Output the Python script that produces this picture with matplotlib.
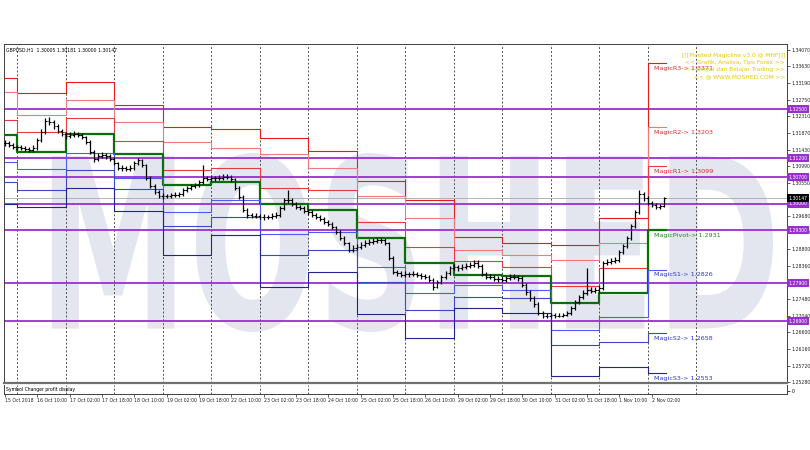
import matplotlib
matplotlib.use('Agg')
import matplotlib.pyplot as plt
from matplotlib.textpath import TextPath
from matplotlib.font_manager import FontProperties
from matplotlib.patches import PathPatch
from matplotlib.path import Path
import matplotlib.transforms as mtransforms
import numpy as np

# ---------------- data ----------------
symbol_text = "GBPUSD,H1  1.30005 1.30181 1.30000 1.30147"
indicator_text = ["[[[Pivoted Magicline v3.0 @ MHF]]]",
                  "<< Grafik, Analisa, Tips Forex >>",
                  "<< Sinyal dan Belajar Trading >>",
                  "<< @ WWW.MOSHED.COM >>"]

# 2-hour bars (bar k is at H1 index 2k); open = previous close
closes = [1.3160, 1.3155, 1.3150, 1.3150, 1.3147, 1.3144, 1.3142, 1.3147, 1.3168, 1.3189,
          1.3218, 1.3216, 1.3205, 1.3192, 1.3184, 1.3179, 1.3181, 1.3184, 1.3181, 1.3176,
          1.3163, 1.3137, 1.3118, 1.3126, 1.3129, 1.3126, 1.3118, 1.3107, 1.3094, 1.3094,
          1.3092, 1.3094, 1.3107, 1.3115, 1.3102, 1.3068, 1.3047, 1.3031, 1.3020, 1.3020,
          1.3020, 1.3023, 1.3023, 1.3026, 1.3036, 1.3041, 1.3047, 1.3049, 1.3057, 1.3068,
          1.3065, 1.3068, 1.3068, 1.3068, 1.3071, 1.3071, 1.3065, 1.3041, 1.3018, 1.2983,
          1.2970, 1.2968, 1.2968, 1.2965, 1.2965, 1.2965, 1.2968, 1.2970, 1.2989, 1.3010,
          1.3010, 1.2999, 1.2991, 1.2989, 1.2981, 1.2978, 1.2970, 1.2965, 1.2960, 1.2952,
          1.2946, 1.2938, 1.2925, 1.2909, 1.2896, 1.2878, 1.2883, 1.2886, 1.2891, 1.2896,
          1.2899, 1.2902, 1.2904, 1.2904, 1.2896, 1.2857, 1.2820, 1.2817, 1.2812, 1.2814,
          1.2814, 1.2814, 1.2812, 1.2809, 1.2807, 1.2799, 1.2780, 1.2793, 1.2807, 1.2817,
          1.2830, 1.2833, 1.2830, 1.2833, 1.2836, 1.2838, 1.2843, 1.2836, 1.2814, 1.2807,
          1.2807, 1.2801, 1.2801, 1.2799, 1.2804, 1.2807, 1.2807, 1.2804, 1.2785, 1.2767,
          1.2751, 1.2735, 1.2711, 1.2704, 1.2704, 1.2706, 1.2704, 1.2704, 1.2706, 1.2711,
          1.2725, 1.2740, 1.2754, 1.2764, 1.2772, 1.2770, 1.2772, 1.2777, 1.2843, 1.2846,
          1.2849, 1.2851, 1.2872, 1.2888, 1.2909, 1.2941, 1.2978, 1.3025, 1.3015, 1.3002,
          1.2997, 1.2991, 1.2994, 1.30147]
highs = [1.3168, 1.3166, 1.3160, 1.3156, 1.3155, 1.3153, 1.3150, 1.3154, 1.3173, 1.3196,
         1.3226, 1.3228, 1.3220, 1.3210, 1.3197, 1.3190, 1.3188, 1.3191, 1.3190, 1.3186,
         1.3180, 1.3168, 1.3141, 1.3134, 1.3137, 1.3135, 1.3131, 1.3122, 1.3111, 1.3101,
         1.3099, 1.3101, 1.3112, 1.3121, 1.3119, 1.3106, 1.3072, 1.3052, 1.3036, 1.3027,
         1.3026, 1.3029, 1.3030, 1.3032, 1.3042, 1.3047, 1.3053, 1.3055, 1.3063, 1.3102,
         1.3074, 1.3075, 1.3074, 1.3076, 1.3078, 1.3079, 1.3076, 1.3069, 1.3046, 1.3022,
         1.2988, 1.2976, 1.2975, 1.2973, 1.2972, 1.2971, 1.2975, 1.2977, 1.2995, 1.3016,
         1.3036, 1.3015, 1.3004, 1.2997, 1.2994, 1.2987, 1.2983, 1.2975, 1.2970, 1.2965,
         1.2957, 1.2951, 1.2942, 1.2930, 1.2914, 1.2900, 1.2890, 1.2893, 1.2898, 1.2903,
         1.2906, 1.2909, 1.2911, 1.2912, 1.2909, 1.2900, 1.2861, 1.2826, 1.2823, 1.2821,
         1.2820, 1.2821, 1.2819, 1.2817, 1.2815, 1.2812, 1.2803, 1.2799, 1.2812, 1.2823,
         1.2836, 1.2840, 1.2839, 1.2840, 1.2843, 1.2845, 1.2850, 1.2851, 1.2840, 1.2819,
         1.2814, 1.2812, 1.2808, 1.2806, 1.2810, 1.2813, 1.2814, 1.2812, 1.2808, 1.2790,
         1.2772, 1.2756, 1.2740, 1.2716, 1.2711, 1.2712, 1.2711, 1.2710, 1.2712, 1.2717,
         1.2731, 1.2746, 1.2760, 1.2771, 1.2830, 1.2779, 1.2779, 1.2784, 1.2849, 1.2853,
         1.2856, 1.2858, 1.2878, 1.2894, 1.2915, 1.2947, 1.2984, 1.3036, 1.3030, 1.3019,
         1.3007, 1.3002, 1.3000, 1.30181]
lows = [1.3152, 1.3150, 1.3145, 1.3143, 1.3141, 1.3138, 1.3136, 1.3137, 1.3143, 1.3163,
        1.3185, 1.3208, 1.3198, 1.3186, 1.3178, 1.3172, 1.3174, 1.3176, 1.3175, 1.3170,
        1.3158, 1.3131, 1.3111, 1.3113, 1.3121, 1.3119, 1.3112, 1.3101, 1.3088, 1.3087,
        1.3085, 1.3086, 1.3090, 1.3103, 1.3096, 1.3062, 1.3041, 1.3025, 1.3014, 1.3013,
        1.3014, 1.3015, 1.3017, 1.3018, 1.3021, 1.3031, 1.3035, 1.3041, 1.3043, 1.3052,
        1.3059, 1.3060, 1.3061, 1.3062, 1.3063, 1.3064, 1.3058, 1.3035, 1.3011, 1.2977,
        1.2963, 1.2961, 1.2962, 1.2959, 1.2958, 1.2959, 1.2960, 1.2962, 1.2966, 1.2984,
        1.3003, 1.2993, 1.2985, 1.2982, 1.2975, 1.2971, 1.2964, 1.2959, 1.2954, 1.2946,
        1.2940, 1.2932, 1.2919, 1.2903, 1.2890, 1.2872, 1.2873, 1.2877, 1.2880, 1.2885,
        1.2890, 1.2893, 1.2896, 1.2897, 1.2890, 1.2851, 1.2814, 1.2810, 1.2806, 1.2806,
        1.2807, 1.2808, 1.2805, 1.2802, 1.2800, 1.2792, 1.2772, 1.2776, 1.2788, 1.2801,
        1.2812, 1.2824, 1.2823, 1.2824, 1.2827, 1.2830, 1.2832, 1.2829, 1.2808, 1.2800,
        1.2800, 1.2795, 1.2794, 1.2792, 1.2793, 1.2798, 1.2800, 1.2797, 1.2779, 1.2760,
        1.2744, 1.2728, 1.2705, 1.2699, 1.2699, 1.2700, 1.2699, 1.2700, 1.2700, 1.2702,
        1.2706, 1.2720, 1.2735, 1.2748, 1.2758, 1.2763, 1.2764, 1.2763, 1.2772, 1.2837,
        1.2840, 1.2843, 1.2846, 1.2866, 1.2882, 1.2903, 1.2935, 1.2972, 1.3008, 1.2996,
        1.2991, 1.2986, 1.2987, 1.2990]

# daily pivot levels (one per day, days start at these H1 bar indices)
day_starts = [0, 6, 30, 54, 78, 102, 126, 150, 174, 198, 222, 246, 270, 294, 318]
last_bar = 327
R3 = [1.3332, 1.3292, 1.3321, 1.3261, 1.3202, 1.3197, 1.3173, 1.3139, 1.3060, 1.3010, 1.2912, 1.2896, 1.2891, 1.2962, 1.3371]
R2 = [1.3295, 1.3234, 1.3274, 1.3216, 1.3163, 1.3147, 1.3131, 1.3094, 1.3020, 1.2962, 1.2878, 1.2865, 1.2851, 1.2896, 1.3203]
R1 = [1.3221, 1.3189, 1.3226, 1.3166, 1.3089, 1.3094, 1.3041, 1.3036, 1.2952, 1.2886, 1.2849, 1.2833, 1.2783, 1.2830, 1.3099]
PV = [1.3181, 1.3137, 1.3184, 1.3131, 1.3049, 1.3057, 1.2999, 1.2983, 1.2909, 1.2843, 1.2812, 1.2809, 1.2738, 1.2764, 1.2931]
S1 = [1.3110, 1.3092, 1.3134, 1.3068, 1.2978, 1.3010, 1.2920, 1.2925, 1.2833, 1.2764, 1.2785, 1.2772, 1.2667, 1.2701, 1.2826]
S2 = [1.3057, 1.3036, 1.3089, 1.3039, 1.2941, 1.2965, 1.2865, 1.2878, 1.2793, 1.2719, 1.2754, 1.2751, 1.2627, 1.2635, 1.2658]
S3 = [1.2999, 1.2991, 1.3041, 1.2981, 1.2865, 1.2917, 1.2780, 1.2820, 1.2709, 1.2645, 1.2725, 1.2711, 1.2545, 1.2569, 1.2553]
level_names = ["MagicR3", "MagicR2", "MagicR1", "MagicPivot", "MagicS1", "MagicS2", "MagicS3"]

round_levels = [1.32500, 1.31200, 1.30700, 1.30000, 1.29300, 1.27900, 1.26900]
current_price = 1.30147
ytick_vals = [1.34070, 1.33630, 1.33190, 1.32750, 1.32310, 1.31870, 1.31430, 1.30990,
              1.30550, 1.29680, 1.29240, 1.28800, 1.28360, 1.27480, 1.27040, 1.26600,
              1.26160, 1.25720, 1.25280]
xtick_pos = list(range(0, 321, 16))
xtick_labels = ["15 Oct 2018", "16 Oct 10:00", "17 Oct 02:00", "17 Oct 18:00", "18 Oct 10:00",
                "19 Oct 02:00", "19 Oct 18:00", "22 Oct 10:00", "23 Oct 02:00", "23 Oct 18:00",
                "24 Oct 10:00", "25 Oct 02:00", "25 Oct 18:00", "26 Oct 10:00", "29 Oct 02:00",
                "29 Oct 18:00", "30 Oct 10:00", "31 Oct 02:00", "31 Oct 18:00", "1 Nov 10:00",
                "2 Nov 02:00"]
separators = day_starts[1:] + [342]

# ---------------- styling ----------------
W, H = 810, 450
fig = plt.figure(figsize=(W / 100, H / 100), dpi=100)
fig.patch.set_facecolor('white')
x0, x1 = 4, 787
ax = fig.add_axes([x0 / W, 1 - 383 / H, (x1 - x0) / W, (383 - 44) / H])
sub = fig.add_axes([x0 / W, 1 - 394 / H, (x1 - x0) / W, (394 - 385) / H])

XMIN, XMAX = -0.5, 387
ax.set_xlim(XMIN, XMAX)
ax.set_ylim(1.25263, 1.34217)
sub.set_xlim(XMIN, XMAX)
sub.set_ylim(0, 1)

tiny = 3.3
for a in (ax, sub):
    for s in a.spines.values():
        s.set_color('#404040')
        s.set_linewidth(0.7)
ax.spines['bottom'].set_color('#707070')
ax.spines['bottom'].set_linewidth(1.6)
sub.spines['top'].set_visible(False)

# watermark
fp = FontProperties(family='DejaVu Sans', weight='bold')
tp = TextPath((0, 0), "MOSHED", size=100, prop=fp)
verts = tp.vertices.copy()
bx0, by0 = verts[:, 0].min(), verts[:, 1].min()
bx1, by1 = verts[:, 0].max(), verts[:, 1].max()
px0, px1, py_top, py_bot = 38, 773, 153, 332
fx = (px0 + (verts[:, 0] - bx0) / (bx1 - bx0) * (px1 - px0)) / W
fy = 1 - (py_bot - (verts[:, 1] - by0) / (by1 - by0) * (py_bot - py_top)) / H
wm = PathPatch(Path(np.column_stack([fx, fy]), tp.codes), transform=fig.transFigure,
               facecolor='#e3e6ef', edgecolor='none', zorder=0)
ax.add_patch(wm)

# day separators
for a in (ax, sub):
    for s in separators:
        a.axvline(s, color='#505050', lw=0.7, ls=(0, (2, 2)), zorder=1)

# round-number lines
purple = '#9a2fd0'
for lv in round_levels:
    ax.axhline(lv, color=purple, lw=1.3, zorder=2)
ax.axhline(current_price, color='#a8a8a8', lw=0.6, zorder=2)

# pivot lines
xs = day_starts + [last_bar]
styles = [('#e41b1b', 0.8), ('#f07a7a', 0.8), ('#e83a3a', 0.8), ('#0a6e0a', 1.6),
          ('#4b5cf0', 0.8), ('#3a48c8', 0.8), ('#23238f', 0.8)]
levels = [R3, R2, R1, PV, S1, S2, S3]
for lv, (c, lw) in zip(levels, styles):
    ax.plot(xs, lv + [lv[-1]], drawstyle='steps-post', color=c, lw=lw, zorder=3)

# price bars (OHLC)
bx = [2 * k for k in range(len(closes))]
opens = [closes[0]] + closes[:-1]
ax.vlines(bx, lows, highs, color='black', lw=0.9, zorder=4)
ax.hlines(opens, [b - 0.9 for b in bx], bx, color='black', lw=0.8, zorder=4)
ax.hlines(closes, bx, [b + 0.9 for b in bx], color='black', lw=0.8, zorder=4)

# magic labels
lab_cols = ['#e02828', '#e02828', '#e02828', '#1a8a1a', '#2a36d8', '#2a36d8', '#2a36d8']
for name, lv, c in zip(level_names, levels, lab_cols):
    ax.annotate(f"{name}-> {lv[-1]:.4f}", (321, lv[-1]), xytext=(0, -3.8),
                textcoords='offset points', va='center', ha='left', fontsize=4.6,
                color=c, zorder=6)

# texts
fig.text(6 / W, 1 - 50 / H, symbol_text, fontsize=tiny, color='black', va='center', ha='left')
for i, line in enumerate(indicator_text):
    fig.text(785 / W, 1 - (56 + 6.8 * i) / H, line, fontsize=4.2, color='#e6c800',
             va='center', ha='right')
sub.text(0.003, 0.5, "Symbol Changer profit display", transform=sub.transAxes,
         fontsize=tiny, va='center', ha='left', color='black')

# axes ticks
ax.yaxis.tick_right()
ax.set_yticks(ytick_vals)
ax.set_yticklabels([f"{v:.5f}" for v in ytick_vals])
ax.tick_params(axis='y', labelsize=tiny, length=2, width=0.5, pad=1.5, colors='#202020')
ax.set_xticks([])
sub.yaxis.tick_right()
sub.set_yticks([0.3])
sub.set_yticklabels(["0"])
sub.tick_params(axis='y', labelsize=tiny, length=2, width=0.5, pad=1.5)
sub.set_xticks(xtick_pos)
sub.set_xticklabels(xtick_labels, ha='left')
sub.tick_params(axis='x', labelsize=tiny, length=2, width=0.5, pad=1.0, colors='#202020')

# boxed price labels on right axis
blend = mtransforms.blended_transform_factory(ax.transAxes, ax.transData)
for lv in round_levels:
    ax.text(1.002, lv, f"{lv:.5f}", transform=blend, fontsize=tiny, color='white',
            va='center', ha='left', clip_on=False, zorder=7,
            bbox=dict(boxstyle='square,pad=0.35', facecolor=purple, edgecolor='none'))
ax.text(1.002, current_price, f"{current_price:.5f}", transform=blend, fontsize=tiny,
        color='white', va='center', ha='left', clip_on=False, zorder=7,
        bbox=dict(boxstyle='square,pad=0.35', facecolor='black', edgecolor='none'))

fig.savefig('out.png', dpi=100, facecolor='white')
